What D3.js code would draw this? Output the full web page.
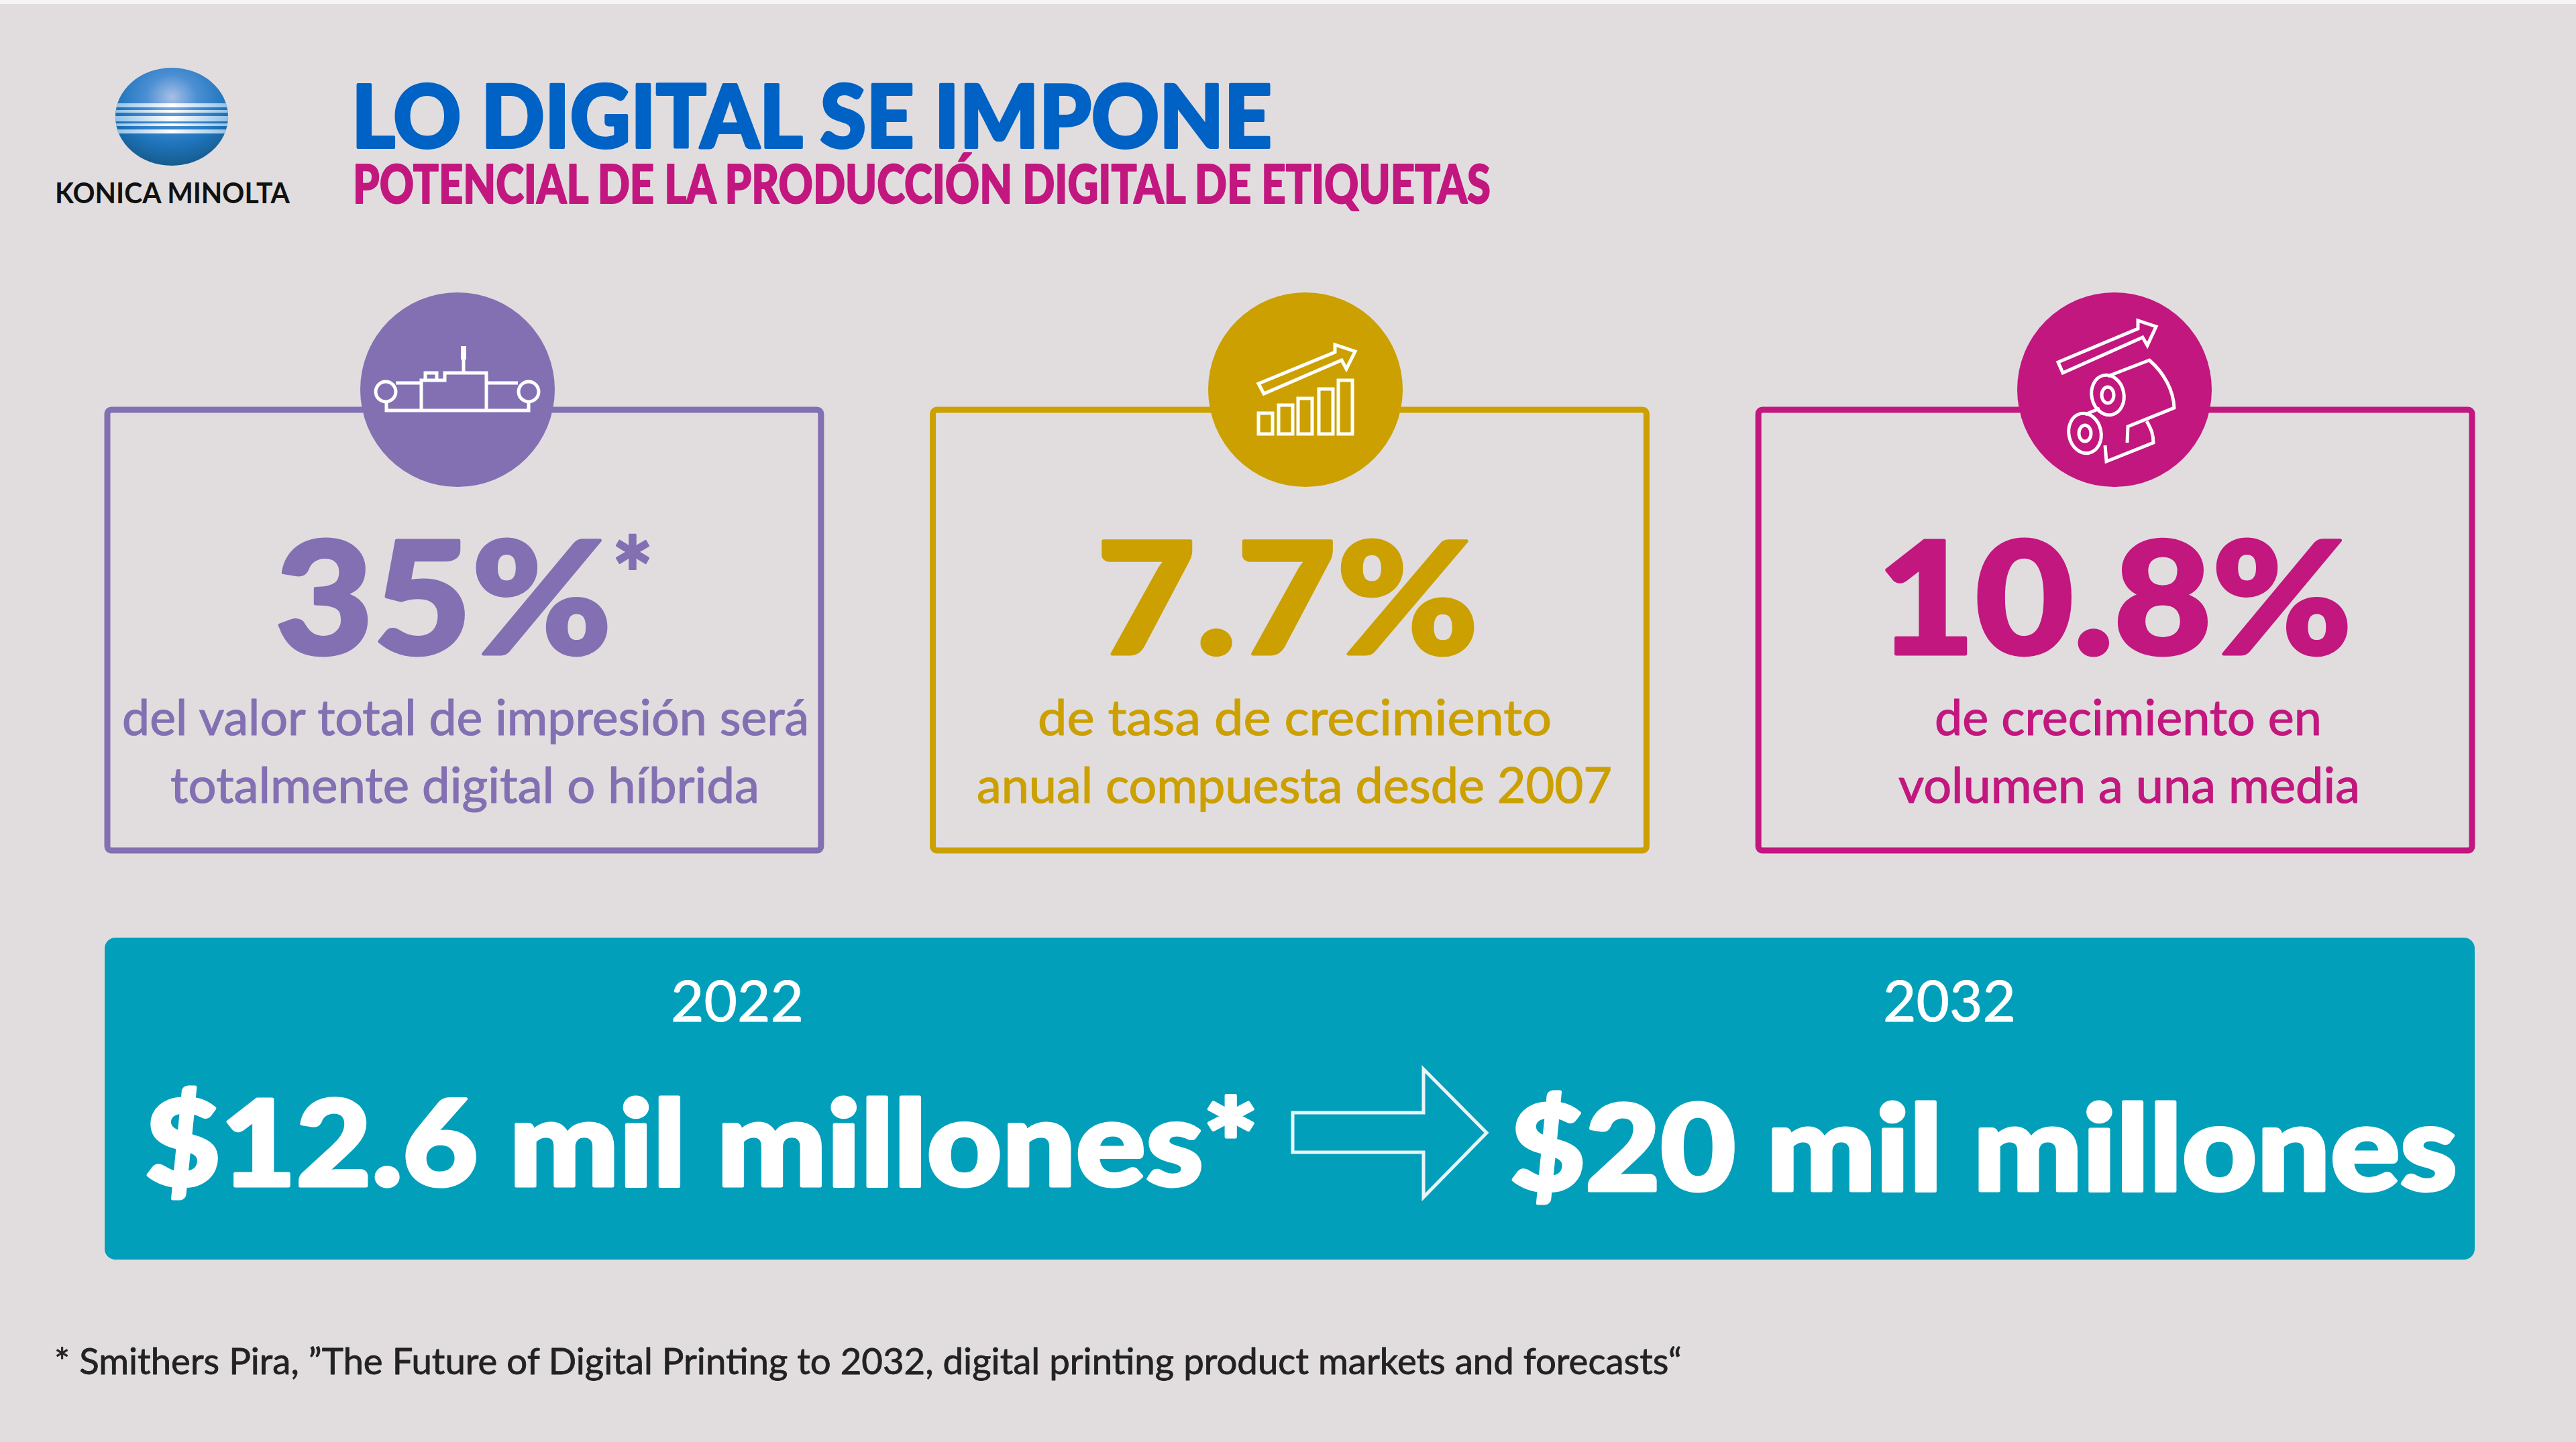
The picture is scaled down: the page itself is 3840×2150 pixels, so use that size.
<!DOCTYPE html>
<html lang="es"><head><meta charset="utf-8">
<script src="https://cdn.jsdelivr.net/npm/d3@7"></script>
<style>html,body{margin:0;padding:0;background:#e1dddf}svg{display:block}text{font-family:Lato,"Open Sans",sans-serif;paint-order:stroke}</style>
</head><body><svg id="c" width="3840" height="2150" viewBox="0 0 3840 2150"></svg>
<script>
// ---- data ----
const categories = ["Valor digital", "Tasa de crecimiento", "Volumen"];
const kpiLabels = ["35%", "7.7%", "10.8%"];
const kpiLines1 = ["del valor total de impresión será", "de tasa de crecimiento", "de crecimiento en"];
const kpiLines2 = ["totalmente digital o híbrida", "anual compuesta desde 2007", "volumen a una media"];
const kpiColors = ["#8270b2", "#cba000", "#c2177e"];
const years = ["2022", "2032"];
const marketLabels = ["$12.6 mil millones*", "$20 mil millones"];
const titleText = "LO DIGITAL SE IMPONE";
const subtitleText = "POTENCIAL DE LA PRODUCCIÓN DIGITAL DE ETIQUETAS";
const brandText = "KONICA MINOLTA";
const footnoteText = "* Smithers Pira, ”The Future of Digital Printing to 2032, digital printing product markets and forecasts“";

// ---- layout ----
const svg = d3.select("#c");
const teal = "#019fba";
svg.append("rect").attr("width",3840).attr("height",2150).attr("fill","#e1dddf");
svg.append("rect").attr("width",3840).attr("height",6).attr("fill","#f6f5f5");

function fit(sel,x,y,w,size,weight,fill,sw){
  return sel.attr("x",x).attr("y",y).attr("textLength",w).attr("lengthAdjust","spacingAndGlyphs")
    .attr("font-size",size).attr("font-weight",weight).attr("fill",fill)
    .attr("stroke",sw?fill:"none").attr("stroke-width",sw||0).attr("stroke-linejoin","round");
}
const line = d3.line();

// logo
const defs = svg.append("defs");
const rg = defs.append("radialGradient").attr("id","globe").attr("cx","0.5").attr("cy","0.3").attr("r","0.75");
[[0,"#a9bfe6"],[0.3,"#4c8fd3"],[0.65,"#1f74bb"],[1,"#135683"]].forEach(s=>rg.append("stop").attr("offset",s[0]).attr("stop-color",s[1]));
const sg = defs.append("linearGradient").attr("id","stripe");
[[0,"#8fc0e6"],[0.5,"#ffffff"],[1,"#8fc0e6"]].forEach(s=>sg.append("stop").attr("offset",s[0]).attr("stop-color",s[1]));
defs.append("clipPath").attr("id","gc").append("ellipse").attr("cx",256).attr("cy",174).attr("rx",84).attr("ry",73);
svg.append("ellipse").attr("cx",256).attr("cy",174).attr("rx",84).attr("ry",73).attr("fill","url(#globe)");
const stripeY=[154,164,173,184,193], stripeH=[6,4,8,4,6];
svg.append("g").attr("clip-path","url(#gc)").selectAll("rect").data(stripeY).join("rect")
  .attr("x",170).attr("width",172).attr("y",d=>d).attr("height",(d,i)=>stripeH[i]).attr("fill","url(#stripe)");
fit(svg.append("text").text(brandText),82,303,350,42,700,"#111");

// title
fit(svg.append("text").text(titleText),524,220,1372,130,900,"#0062c4",4);
fit(svg.append("text").text(subtitleText),526,303,1696,80,900,"#c2177e",2);

// cards
const x = d3.scaleBand().domain(categories).range([156,3689]).paddingInner(0.129).paddingOuter(0);
const cardTop=607, cardH=665, cy=581, r=145;
const circleX=[682,1946,3152];
const cards = svg.selectAll("g.card").data(categories).join("g").attr("class","card");
cards.append("rect").attr("x",d=>x(d)+4).attr("y",cardTop+4).attr("width",x.bandwidth()-8).attr("height",cardH-8)
  .attr("rx",6).attr("fill","none").attr("stroke-width",9).attr("stroke",(d,i)=>kpiColors[i]);
cards.append("circle").attr("cx",(d,i)=>circleX[i]).attr("cy",cy).attr("r",r)
  .attr("fill",(d,i)=>kpiColors[i]);

// KPI texts
const bigBox=[[410,502],[1634,570],[2798,708]], l1=[[182,1024],[1547,766],[2884,577]], l2=[[254,878],[1456,947],[2830,688]];
cards.append("text").text((d,i)=>kpiLabels[i]).each(function(d,i){fit(d3.select(this),bigBox[i][0],975,bigBox[i][1],232,900,kpiColors[i],5);});
cards.append("text").text((d,i)=>kpiLines1[i]).each(function(d,i){fit(d3.select(this),l1[i][0],1096,l1[i][1],74,400,kpiColors[i],1.2);});
cards.append("text").text((d,i)=>kpiLines2[i]).each(function(d,i){fit(d3.select(this),l2[i][0],1197,l2[i][1],74,400,kpiColors[i],1.2);});
fit(svg.append("text").text("*"),912,911,62,150,900,kpiColors[0],2);

// icons
const ink = svg.append("g").attr("fill","none").attr("stroke","#fff").attr("stroke-width",5).attr("stroke-linejoin","miter");
const ic1 = ink.append("g");
[[[576,600],[576,612],[788,612],[788,600]],[[590,571],[628,571]],[[725,571],[772,571]],
 [[628,612],[628,567],[663,567],[663,556],[725,556],[725,612]],[[691,556],[691,534]],
 [[634,569],[634,556],[651,556],[651,569]]].forEach(p=>ic1.append("path").attr("d",line(p)));
ic1.append("rect").attr("x",687).attr("y",516).attr("width",8).attr("height",20).attr("fill","#fff").attr("stroke","none");
[575,788].forEach(c=>ic1.append("circle").attr("cx",c).attr("cy",584).attr("r",15));
const ic2 = ink.append("g");
const bx=[1876,1906,1935,1966,1995], bt=[616,604,594,580,567];
ic2.selectAll("rect").data(bx).join("rect").attr("x",d=>d).attr("width",21).attr("y",(d,i)=>bt[i]).attr("height",(d,i)=>647-bt[i]);
ic2.append("path").attr("d",line([[1876,572],[1990,525],[1990,514],[2020,524],[2007,550],[2000,537],[1884,587]])+"Z");
const ic3 = ink.append("g");
ic3.append("path").attr("d",line([[3068,540],[3187,490],[3187,478],[3214,487],[3201,515],[3194,503],[3075,556]])+"Z");
ic3.append("path").attr("d","M3142,561 L3204,537 C3226,556 3240,582 3241,608 L3172,636 L3171,660");
ic3.append("path").attr("d","M3108,618 L3130,609 M3200,628 C3207,640 3210,648 3210,660 L3140,688 L3138,664");
[[3142,589],[3108,646]].forEach(p=>{
  ic3.append("ellipse").attr("cx",p[0]).attr("cy",p[1]).attr("rx",24).attr("ry",30).attr("transform",`rotate(-12 ${p[0]} ${p[1]})`);
  ic3.append("ellipse").attr("cx",p[0]).attr("cy",p[1]).attr("rx",9).attr("ry",12);
});

// market band
svg.append("rect").attr("x",156).attr("y",1398).attr("width",3533).attr("height",480).attr("rx",16).attr("fill",teal);
const yearX=[1000,2807], mktX=[[216,1660,1768],[2251,1412,1775]];
svg.selectAll("text.year").data(years).join("text").attr("class","year").text(d=>d)
  .each(function(d,i){fit(d3.select(this),yearX[i],1523,198,86,400,"#fff",1);});
svg.selectAll("text.mkt").data(marketLabels).join("text").attr("class","mkt").text(d=>d)
  .each(function(d,i){fit(d3.select(this),mktX[i][0],mktX[i][2],mktX[i][1],178,900,"#fff",5);});
svg.append("path").attr("d",line([[1927,1659],[2122,1659],[2122,1594],[2216,1689],[2122,1785],[2122,1718],[1927,1718]])+"Z")
  .attr("fill","none").attr("stroke","#e6f6f9").attr("stroke-width",5);

// footnote
fit(svg.append("text").text(footnoteText),81,2049,2426,54,400,"#222",0.8);
</script></body></html>
